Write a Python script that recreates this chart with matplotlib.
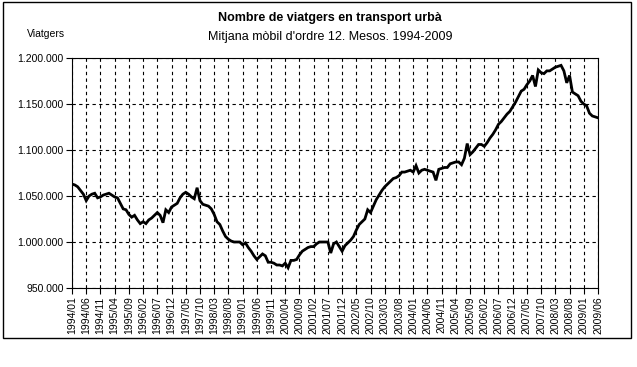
import matplotlib
matplotlib.use('Agg')
import matplotlib.pyplot as plt
from matplotlib.patches import Rectangle
from matplotlib.ticker import FuncFormatter

plt.rcParams['font.family'] = ['Liberation Sans', 'DejaVu Sans']

# mesos 1994/01 - 2009/06
anys = list(range(1994, 2010))
mesos = [f'{a}/{m:02d}' for a in anys for m in range(1, 13)][:186]

# mitjana mobil d'ordre 12 (viatgers)
viatgers = [
    1063000, 1062000, 1060000, 1056000, 1052000, 1045000, 1050000, 1052000, 1053000, 1048000, 1049000, 1051000,
    1052000, 1053000, 1051000, 1049000, 1048000, 1042000, 1036000, 1035000, 1030000, 1027000, 1029000, 1024000,
    1020000, 1022000, 1020000, 1024000, 1026000, 1029000, 1032000, 1029000, 1021000, 1035000, 1032000, 1038000,
    1040000, 1042000, 1048000, 1052000, 1054000, 1052000, 1049000, 1047000, 1059000, 1045000, 1041000, 1040000,
    1039000, 1036000, 1030000, 1022000, 1019000, 1012000, 1006000, 1003000, 1001000, 1000000, 1000000, 1000000,
    997000, 999000, 994000, 990000, 985000, 981000, 984000, 987000, 985000, 978000, 978000, 977000,
    975000, 975000, 974000, 977000, 972000, 980000, 980000, 981000, 986000, 990000, 992000, 994000,
    995000, 995000, 998000, 1000000, 1000000, 1000000, 1000000, 988000, 998000, 1000000, 995000, 990000,
    996000, 999000, 1002000, 1006000, 1013000, 1019000, 1022000, 1025000, 1035000, 1032000, 1039000, 1046000,
    1051000, 1056000, 1060000, 1063000, 1066000, 1069000, 1070000, 1072000, 1076000, 1076000, 1077000, 1078000,
    1076000, 1083000, 1075000, 1078000, 1079000, 1078000, 1077000, 1076000, 1067000, 1079000, 1080000, 1081000,
    1081000, 1085000, 1086000, 1087000, 1087000, 1084000, 1091000, 1107000, 1095000, 1098000, 1102000, 1106000,
    1106000, 1104000, 1108000, 1113000, 1117000, 1122000, 1128000, 1131000, 1135000, 1139000, 1142000, 1147000,
    1152000, 1158000, 1164000, 1166000, 1171000, 1175000, 1181000, 1169000, 1187000, 1184000, 1183000, 1186000,
    1186000, 1188000, 1190000, 1191000, 1192000, 1186000, 1173000, 1181000, 1163000, 1161000, 1159000, 1153000,
    1150000, 1148000, 1140000, 1137000, 1136000, 1135000,
]

y_ticks = [950000, 1000000, 1050000, 1100000, 1150000, 1200000]

fig = plt.figure(figsize=(6.37, 3.67), dpi=100)
fig.patches.append(Rectangle((0.0047, 0.079), 0.986, 0.9155, transform=fig.transFigure,
                             fill=False, edgecolor='black', linewidth=1))

ax = fig.add_axes([72 / 637, 1 - 288 / 367, 526 / 637, 230 / 367])
x = list(range(len(viatgers)))
ax.plot(x, viatgers, color='black', linewidth=2.0, solid_joinstyle='miter')

ax.set_xlim(0, len(viatgers) - 1)
ax.set_ylim(950000, 1200000)
ax.set_xticks(x[::5])
ax.set_xticklabels(mesos[::5], rotation=90, fontsize=7.5)
ax.set_yticks(y_ticks)
ax.yaxis.set_major_formatter(FuncFormatter(lambda v, p: f'{int(v):,}'.replace(',', '.')))
ax.tick_params(axis='y', labelsize=7.5, length=4, width=0.8, pad=2)
ax.tick_params(axis='x', length=4, width=0.8, pad=2)
ax.grid(True, color='black', linestyle=(0, (3, 3)), linewidth=0.8)
for s in ax.spines.values():
    s.set_linewidth(0.8)

fig.text(330 / 637, 1 - 18 / 367, 'Nombre de viatgers en transport urbà', ha='center', va='center',
         fontsize=9, fontweight='bold')
fig.text(330 / 637, 1 - 37 / 367, "Mitjana mòbil d'ordre 12. Mesos. 1994-2009", ha='center', va='center',
         fontsize=9)
fig.text(46 / 637, 1 - 34 / 367, 'Viatgers', ha='center', va='center', fontsize=7.5)

fig.savefig('out.png', dpi=100)
